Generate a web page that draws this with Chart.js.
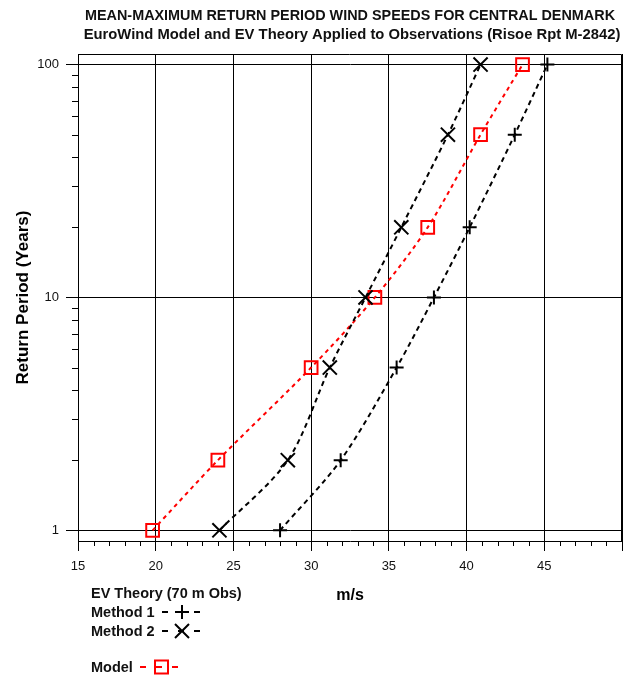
<!DOCTYPE html>
<html>
<head>
<meta charset="utf-8">
<title>Mean-maximum return period wind speeds</title>
<script src="https://cdn.jsdelivr.net/npm/chart.js@4/dist/chart.umd.min.js"></script>
<style>
  body { margin: 0; background: #fff; }
  #wrap { width: 625px; height: 677px; }
</style>
</head>
<body>
<div id="wrap"><canvas id="chart" width="625" height="677"></canvas></div>
<script>
// return period (years) vs. wind speed (m/s)
const returnPeriods = [1, 2, 5, 10, 20, 50, 100];
const method1Speeds = [28.0, 31.9, 35.5, 37.9, 40.2, 43.1, 45.2];
const method2Speeds = [24.1, 28.5, 31.2, 33.5, 35.8, 38.8, 40.9];
const modelSpeeds = [19.8, 24.0, 30.0, 34.1, 37.5, 40.9, 43.6];

const yTickValues = [1, 10, 100];
const titleLines = [
    'MEAN-MAXIMUM RETURN PERIOD WIND SPEEDS FOR CENTRAL DENMARK',
    'EuroWind Model and EV Theory Applied to Observations (Risoe Rpt M-2842)'
];

const FONT = 'Arial, "Liberation Sans", sans-serif';

function toPoints(speeds) {
    return speeds.map((s, i) => ({ x: s, y: returnPeriods[i] }));
}

function drawMarker(ctx, style, x, y, color) {
    ctx.strokeStyle = color;
    ctx.lineWidth = 2;
    ctx.setLineDash([]);
    ctx.beginPath();
    if (style === 'cross') {
        ctx.moveTo(x - 7, y); ctx.lineTo(x + 7, y);
        ctx.moveTo(x, y - 7); ctx.lineTo(x, y + 7);
    } else if (style === 'crossRot') {
        ctx.moveTo(x - 7, y - 7); ctx.lineTo(x + 7, y + 7);
        ctx.moveTo(x - 7, y + 7); ctx.lineTo(x + 7, y - 7);
    } else {
        ctx.rect(x - 6.5, y - 6.5, 13, 13);
    }
    ctx.stroke();
}

function drawSample(ctx, x0, x1, y, style, color) {
    ctx.save();
    ctx.strokeStyle = color;
    ctx.lineWidth = 2;
    ctx.setLineDash([6, 10]);
    ctx.beginPath();
    ctx.moveTo(x0, y); ctx.lineTo(x1, y);
    ctx.stroke();
    drawMarker(ctx, style, (x0 + x1) / 2, y, color);
    ctx.restore();
}

const extras = {
    id: 'extras',
    afterDraw(chart) {
        const ctx = chart.ctx;
        const area = chart.chartArea;
        const xs = chart.scales.x;
        const ys = chart.scales.y;
        ctx.save();

        // top and right edges of the plot box
        ctx.strokeStyle = '#000';
        ctx.lineWidth = 1;
        ctx.beginPath();
        ctx.moveTo(area.left, area.top + 0.5);
        ctx.lineTo(area.right - 0.5, area.top + 0.5);
        ctx.lineTo(area.right - 0.5, area.bottom);
        ctx.stroke();

        // minor ticks
        ctx.beginPath();
        for (let v = 16; v < 50; v++) {
            if (v % 5 === 0) continue;
            const px = Math.round(xs.getPixelForValue(v)) + 0.5;
            ctx.moveTo(px, area.bottom);
            ctx.lineTo(px, area.bottom + 5);
        }
        for (const d of [1, 10]) {
            for (let k = 2; k <= 9; k++) {
                const py = Math.round(ys.getPixelForValue(d * k)) + 0.5;
                ctx.moveTo(area.left - 6, py);
                ctx.lineTo(area.left, py);
            }
        }
        ctx.stroke();

        // title
        const cx = (area.left + area.right) / 2;
        ctx.fillStyle = '#111';
        ctx.textAlign = 'center';
        ctx.textBaseline = 'middle';
        ctx.font = 'bold 14.4px ' + FONT;
        ctx.fillText(titleLines[0], cx, 16);
        ctx.font = 'bold 14.8px ' + FONT;
        ctx.fillText(titleLines[1], cx + 2, 35);

        // legend
        ctx.textAlign = 'left';
        ctx.font = 'bold 14.5px ' + FONT;
        ctx.fillText('EV Theory (70 m Obs)', 91, 594);
        ctx.fillText('Method 1', 91, 613);
        ctx.fillText('Method 2', 91, 632);
        ctx.fillText('Model', 91, 668);
        drawSample(ctx, 162, 202, 612, 'cross', '#000');
        drawSample(ctx, 162, 202, 631, 'crossRot', '#000');
        drawSample(ctx, 140, 183, 667, 'rect', '#ff0000');

        ctx.restore();
    }
};

const ctx = document.getElementById('chart').getContext('2d');
new Chart(ctx, {
    type: 'line',
    data: {
        datasets: [
            {
                label: 'Method 1',
                data: toPoints(method1Speeds),
                borderColor: '#000',
                borderWidth: 2,
                borderDash: [5, 4],
                tension: 0.3,
                fill: false,
                pointStyle: 'cross',
                pointRadius: 7,
                pointBorderWidth: 2,
                pointBorderColor: '#000'
            },
            {
                label: 'Method 2',
                data: toPoints(method2Speeds),
                borderColor: '#000',
                borderWidth: 2,
                borderDash: [5, 4],
                tension: 0.3,
                fill: false,
                pointStyle: 'crossRot',
                pointRadius: 10,
                pointBorderWidth: 2,
                pointBorderColor: '#000'
            },
            {
                label: 'Model',
                data: toPoints(modelSpeeds),
                borderColor: '#ff0000',
                borderWidth: 2,
                borderDash: [4, 4],
                tension: 0.3,
                fill: false,
                pointStyle: 'rect',
                pointRadius: 9,
                pointBorderWidth: 2,
                pointBorderColor: '#ff0000',
                pointBackgroundColor: 'rgba(0,0,0,0)'
            }
        ]
    },
    options: {
        responsive: false,
        animation: false,
        events: [],
        layout: { autoPadding: false, padding: { top: 54, right: 3, left: 0, bottom: 0 } },
        plugins: {
            legend: { display: false },
            title: { display: false },
            tooltip: { enabled: false }
        },
        scales: {
            x: {
                type: 'linear',
                position: 'bottom',
                min: 15,
                max: 50,
                afterFit: scale => {
                    scale.height = 136;
                    scale.paddingLeft = 0;
                    scale.paddingRight = 0;
                },
                ticks: {
                    stepSize: 5,
                    padding: 8,
                    color: '#111',
                    font: { family: FONT, size: 13 },
                    callback: v => (v === 50 ? '' : String(v))
                },
                grid: { color: '#000', lineWidth: 1, tickLength: 10 },
                border: { display: true, color: '#000', width: 1 },
                title: {
                    display: true,
                    text: 'm/s',
                    color: '#000',
                    font: { family: FONT, size: 16, weight: 'bold' },
                    padding: { top: 4, bottom: 72 }
                }
            },
            y: {
                type: 'logarithmic',
                min: 0.9,
                max: 111,
                afterFit: scale => { scale.width = 78; },
                afterBuildTicks: scale => {
                    scale.ticks = yTickValues.map(v => ({ value: v }));
                },
                ticks: {
                    padding: 7,
                    color: '#111',
                    font: { family: FONT, size: 13 },
                    callback: v => String(v)
                },
                grid: { color: '#000', lineWidth: 1, tickLength: 12 },
                border: { display: true, color: '#000', width: 1 },
                title: {
                    display: true,
                    text: 'Return Period (Years)',
                    color: '#000',
                    font: { family: FONT, size: 17, weight: 'bold' },
                    padding: { top: 13, bottom: 0 }
                }
            }
        }
    },
    plugins: [extras]
});
</script>
</body>
</html>
